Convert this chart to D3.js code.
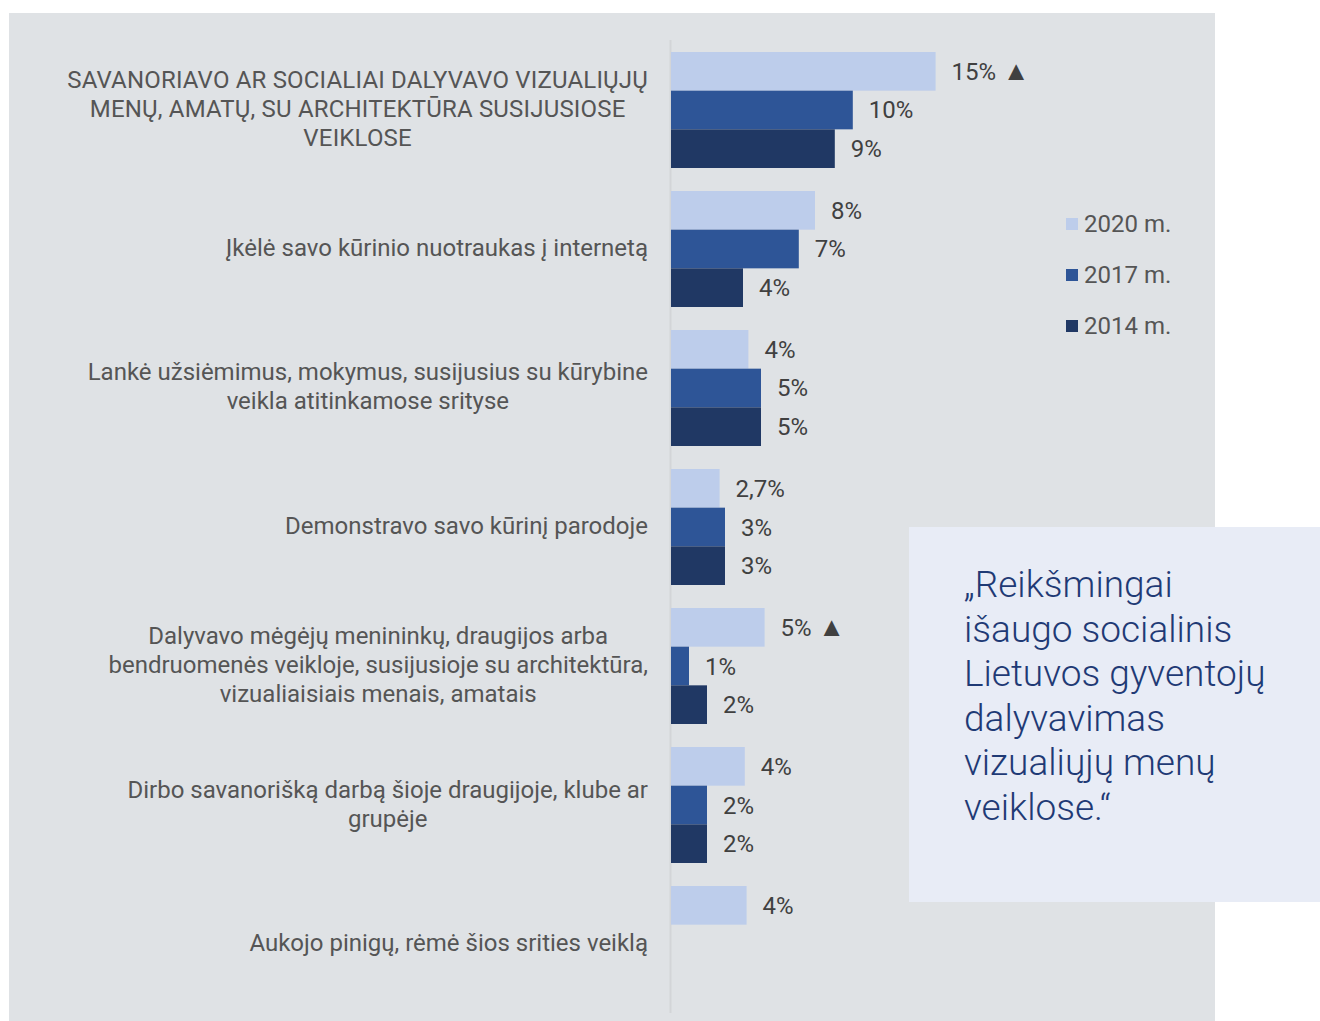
<!DOCTYPE html>
<html>
<head>
<meta charset="utf-8">
<script src="https://cdn.jsdelivr.net/npm/d3@7"></script>
<style>
  body { margin: 0; background: #ffffff; }
  svg { display: block; font-family: Roboto, "Noto Sans", sans-serif; }
</style>
</head>
<body>
<svg id="chart" width="1320" height="1021"></svg>
<script>
const categories = [
  ['SAVANORIAVO AR SOCIALIAI DALYVAVO VIZUALIŲJŲ', 'MENŲ, AMATŲ, SU ARCHITEKTŪRA SUSIJUSIOSE', 'VEIKLOSE'],
  ['Įkėlė savo kūrinio nuotraukas į internetą'],
  ['Lankė užsiėmimus, mokymus, susijusius su kūrybine', 'veikla atitinkamose srityse'],
  ['Demonstravo savo kūrinį parodoje'],
  ['Dalyvavo mėgėjų menininkų, draugijos arba', 'bendruomenės veikloje, susijusioje su architektūra,', 'vizualiaisiais menais, amatais'],
  ['Dirbo savanorišką darbą šioje draugijoje, klube ar', 'grupėje'],
  ['Aukojo pinigų, rėmė šios srities veiklą']
];
const years = ['2020 m.', '2017 m.', '2014 m.'];
const values2020 = [14.7, 8.0, 4.3, 2.7, 5.2, 4.1, 4.2];
const values2017 = [10.1, 7.1, 5.0, 3.0, 1.0, 2.0, null];
const values2014 = [9.1, 4.0, 5.0, 3.0, 2.0, 2.0, null];
const labels2020 = ['15% ▲', '8%', '4%', '2,7%', '5% ▲', '4%', '4%'];
const labels2017 = ['10%', '7%', '5%', '3%', '1%', '2%', null];
const labels2014 = ['9%', '4%', '5%', '3%', '2%', '2%', null];
const quoteLines = ['„Reikšmingai', 'išaugo socialinis', 'Lietuvos gyventojų', 'dalyvavimas', 'vizualiųjų menų', 'veiklose.“'];

const colors = ['#bdcdeb', '#2e5597', '#203864'];
const seriesValues = [values2020, values2017, values2014];
const seriesLabels = [labels2020, labels2017, labels2014];

const svg = d3.select('#chart');

// background panel
svg.append('rect').attr('x', 9).attr('y', 13).attr('width', 1206).attr('height', 1008).attr('fill', '#dfe2e5');

const x = d3.scaleLinear().domain([0, 15]).range([671, 941]);
const y = d3.scaleBand().domain(d3.range(categories.length)).range([52, 1002]).paddingInner(0.1655).paddingOuter(0);
const ySub = d3.scaleBand().domain(d3.range(years.length)).range([0, y.bandwidth()]);

// axis line
svg.append('line').attr('x1', 670.5).attr('x2', 670.5).attr('y1', 40).attr('y2', 1013)
  .attr('stroke', '#d3d5d8').attr('stroke-width', 2);

const bars = [];
seriesValues.forEach(function (vals, s) {
  vals.forEach(function (v, i) {
    if (v !== null) bars.push({ s: s, i: i, v: v, label: seriesLabels[s][i] });
  });
});

const group = svg.selectAll('g.bar').data(bars).enter().append('g').attr('class', 'bar');
group.append('rect')
  .attr('x', x(0))
  .attr('y', d => y(d.i) + ySub(d.s))
  .attr('width', d => x(d.v) - x(0))
  .attr('height', ySub.bandwidth())
  .attr('fill', d => colors[d.s]);
const vt = group.append('text')
  .attr('x', d => x(d.v) + 16)
  .attr('y', d => y(d.i) + ySub(d.s) + ySub.bandwidth() / 2 + 8.5)
  .attr('font-size', 24)
  .attr('fill', '#404040');
vt.append('tspan').text(d => d.label.replace(' ▲', ''));
vt.filter(d => d.label.indexOf('▲') >= 0).append('tspan').attr('font-size', 27).text(' ▲');

// category labels
categories.forEach(function (lines, i) {
  const cy = y(i) + y.bandwidth() / 2;
  const lh = 29;
  const t = svg.append('text').attr('font-size', 24).attr('fill', '#555555').attr('text-anchor', 'middle')
    .attr('letter-spacing', i === 0 ? 0.18 : 0);
  lines.forEach(function (line, k) {
    t.append('tspan').attr('y', cy + 7 + (k - (lines.length - 1) / 2) * lh).text(line);
  });
  let maxW = 0;
  t.selectAll('tspan').each(function () { maxW = Math.max(maxW, this.getComputedTextLength()); });
  t.selectAll('tspan').attr('x', 648 - maxW / 2);
});

// legend
const legend = svg.selectAll('g.legend').data(years).enter().append('g').attr('class', 'legend')
  .attr('transform', (d, i) => 'translate(1066,' + (224 + i * 51) + ')');
legend.append('rect').attr('x', 0).attr('y', -6).attr('width', 12).attr('height', 12).attr('fill', (d, i) => colors[i]);
legend.append('text').attr('x', 18).attr('y', 8).attr('font-size', 24).attr('fill', '#555555').text(d => d);

// quote box
svg.append('rect').attr('x', 909).attr('y', 527).attr('width', 411).attr('height', 375).attr('fill', '#e8ecf6');
svg.append('text').attr('font-size', 37).attr('font-weight', 300).attr('fill', '#1f3a75')
  .selectAll('tspan').data(quoteLines).enter().append('tspan')
  .attr('x', 964).attr('y', (d, i) => 597 + i * 44.5).text(d => d);
</script>
</body>
</html>
